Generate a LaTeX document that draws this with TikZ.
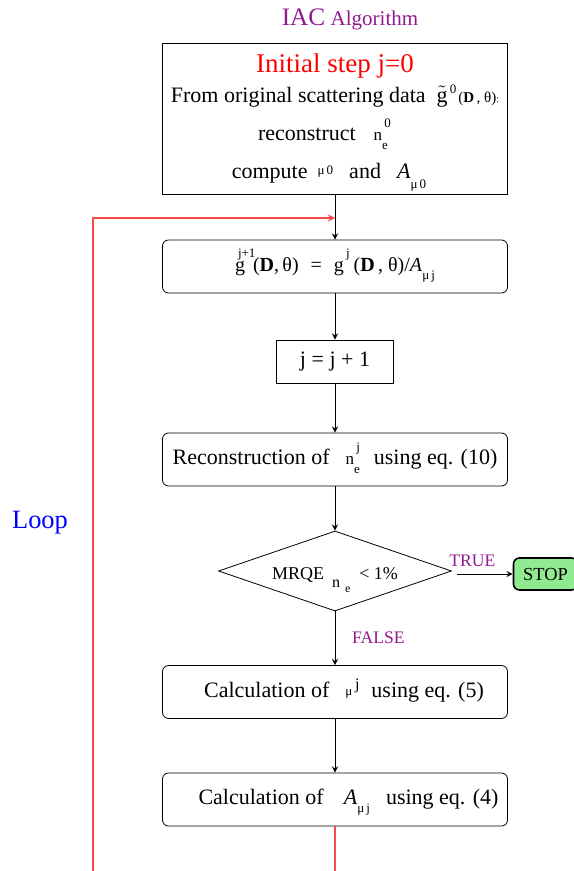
\documentclass[tikz,border=0pt]{standalone}
\usepackage{fontspec}
\setmainfont{Liberation Serif}
\usetikzlibrary{shapes.geometric, arrows}
\definecolor{algpurple}{RGB}{145,25,145}
\definecolor{stopgreen}{RGB}{144,234,144}
\definecolor{loopred}{RGB}{250,75,75}
\newcommand{\shiftfs}[3]{\smash{\raisebox{#1}{\fontsize{#2}{#2}\selectfont #3}}}
\newcommand{\subsup}[3]{#1\rlap{\shiftfs{6.5pt}{6.5}{#3}}\shiftfs{-4.5pt}{6.5}{#2}}
\tikzstyle{init} = [rectangle, minimum width=172.5pt, minimum height=75.5pt, align=center, draw=black]
\tikzstyle{pro} = [rectangle, rounded corners=3pt, minimum width=172.5pt, minimum height=26.5pt, text centered, draw=black]
\tikzstyle{inc} = [rectangle, minimum width=58.5pt, minimum height=21.5pt, text centered, draw=black]
\tikzstyle{dec} = [diamond, aspect=2.9, inner sep=0pt, minimum width=116.5pt, minimum height=40pt, text centered, draw=black, font=\fontsize{9}{11}\selectfont]
\tikzstyle{ss} = [rectangle, rounded corners=3pt, minimum width=32pt, minimum height=16pt, text centered, draw=black, thick, fill=stopgreen, font=\fontsize{9.2}{11}\selectfont]
\tikzstyle{lbl} = [text=algpurple, font=\fontsize{8.8}{10}\selectfont]
\tikzstyle{arrow} = [->,>=stealth]
\tikzstyle{loop} = [loopred, line width=0.6pt, ->, >=stealth]

\begin{document}
\begin{tikzpicture}[node distance=50pt, every node/.style={font=\fontsize{11}{13}\selectfont}]
\useasboundingbox (0,0) rectangle (286.5pt,-435.5pt);
% Drawing nodes
\node (title) at (175pt,-9.5pt) {\color{algpurple}{\fontsize{12.6}{14}\selectfont IAC} {\fontsize{10.5}{12}\selectfont Algorithm}};
\node (start) [init] at (167.5pt,-59.25pt) {{\fontsize{13.5}{15}\selectfont\color{red}Initial step j=0}\\[2pt]
  From original scattering data \ $\tilde{\mathrm{g}}$\shiftfs{4.5pt}{6.5}{\,0}\hspace{1pt}{\fontsize{7.5}{9}\selectfont(\textbf{D}\,, θ)}{\tiny:}\\[6pt]
  \hspace*{-12pt}reconstruct\hspace{9pt}\subsup{{\fontsize{8.5}{9}\selectfont n}}{e}{\,0}\\[6pt]
  \hspace*{-6pt}compute\hspace{5pt}\shiftfs{2pt}{6.5}{μ\,0}\hspace{8pt}and\hspace{8pt}\textit{A}\shiftfs{-5pt}{6.5}{μ\,0}};
\node (upd) [pro, below of=start, yshift=-24pt] {{\fontsize{10}{12}\selectfont \rlap{\hspace{1.5pt}\shiftfs{7pt}{6.5}{j+1}}g\hspace{4pt}(\textbf{D},\,θ)\hspace{6pt}=\hspace{6pt}g\shiftfs{7pt}{6.5}{\,j}\hspace{2pt}(\textbf{D}\,, θ)/\textit{A}\shiftfs{-4pt}{6.5}{μ\,j}}};
\node (inc) [inc, below of=upd, yshift=2.5pt] {j = j + 1};
\node (rec) [pro, below of=inc, yshift=1pt] {Reconstruction of\hspace{8pt}\subsup{{\fontsize{8.5}{9}\selectfont n}}{e}{\,j}\hspace{7pt}using eq. (10)};
\node (test) [dec, below of=rec, yshift=-5.75pt] {\rule{0pt}{9.5pt}MRQE\hspace{4pt}\shiftfs{-4pt}{8}{n}\hspace{2.5pt}\shiftfs{-6.5pt}{6}{e}\hspace{4.5pt}< 1\%};
\node (stop) [ss, right of=test, xshift=55.25pt, yshift=-1.5pt] {STOP};
\node (calcmu) [pro, below of=test, yshift=-10.5pt] {\hspace*{9pt}Calculation of\hspace{8pt}\shiftfs{1pt}{6.5}{μ}\shiftfs{4pt}{8}{\,j}\hspace{6pt}using eq. (5)};
\node (calcA) [pro, below of=calcmu, yshift=-3.75pt] {\hspace*{13.5pt}Calculation of\hspace{10pt}\textit{A}\shiftfs{-4pt}{6.5}{μ\,j}\hspace{8pt}using eq. (4)};
\node (looplbl) at (20pt,-261.5pt) {\fontsize{13.2}{15}\selectfont\color{blue}Loop};
\coordinate (join) at (167.5pt,-109pt);
\coordinate (cutA) at (167.5pt,-436pt);
\coordinate (cutB) at (46.5pt,-436pt);

% Drawing arrows
\draw [arrow] (start) -- (upd);
\draw [arrow] (upd) -- (inc);
\draw [arrow] (inc) -- (rec);
\draw [arrow] (rec) -- (test);
\draw [arrow, shorten <=2.5pt] (test.east |- stop.west) -- node[lbl, above, xshift=-5pt] {TRUE} (stop.west);
\draw [arrow] (test) -- node[lbl, right, xshift=5pt] {FALSE} (calcmu);
\draw [arrow] (calcmu) -- (calcA);
\draw [loopred, line width=0.6pt] (calcA) -- (cutA);
\draw [loop] (cutB) |- (join);
\end{tikzpicture}
\end{document}
